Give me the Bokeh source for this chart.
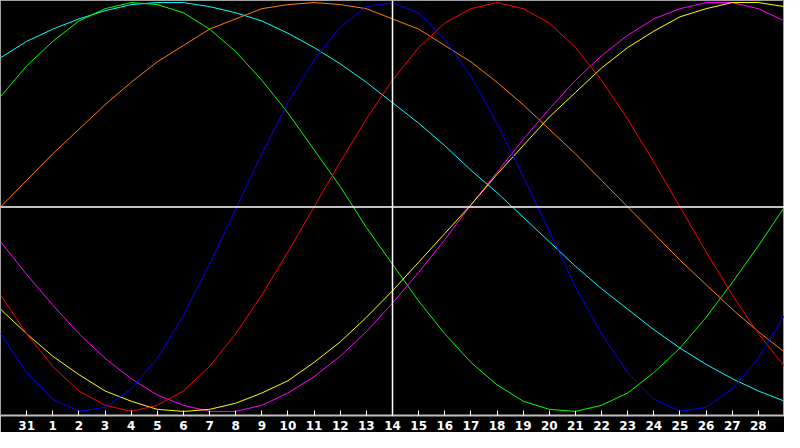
from bokeh.plotting import figure
from bokeh.models import Range1d, FixedTicker, Span
from bokeh.embed import file_html
from bokeh.resources import INLINE

# day-of-month labels along the x axis (index 0 = day 30 of previous month)
days = [30, 31, 1, 2, 3, 4, 5, 6, 7, 8, 9, 10, 11, 12, 13, 14, 15, 16,
        17, 18, 19, 20, 21, 22, 23, 24, 25, 26, 27, 28, 29]
today = 14

# biorhythm values in percent, one per day
physical = [-62, -81, -94, -100, -98, -89, -74, -53, -28, -1, 26, 51, 72, 88,
            98, 100, 95, 82, 64, 41, 15, -12, -39, -62, -81, -94, -100, -98,
            -89, -74, -53]
emotional = [-43, -62, -78, -90, -97, -100, -97, -90, -78, -62, -43, -22, 0,
             22, 43, 62, 78, 90, 97, 100, 97, 90, 78, 62, 43, 22, 0, -22, -43,
             -62, -78]
intellectual = [54, 69, 81, 91, 97, 100, 99, 95, 87, 76, 62, 46, 28, 10, -10,
                -28, -46, -62, -76, -87, -95, -99, -100, -97, -91, -81, -69,
                -54, -37, -19, 0]
intuitive = [-17, -33, -48, -62, -74, -84, -92, -97, -100, -100, -97, -91, -83,
             -73, -61, -47, -32, -16, 1, 17, 33, 48, 62, 74, 84, 92, 97, 100,
             100, 97, 91]
aesthetic = [-50, -62, -73, -82, -90, -95, -99, -100, -99, -96, -91, -85, -76,
             -66, -54, -41, -27, -13, 1, 16, 30, 44, 56, 68, 78, 86, 93, 97,
             100, 100, 98]
awareness = [0, 13, 26, 38, 50, 61, 71, 79, 87, 92, 97, 99, 100, 99, 97, 92,
             87, 79, 71, 61, 50, 38, 26, 13, 0, -13, -26, -38, -50, -61, -71]
spiritual = [73, 81, 87, 92, 96, 99, 100, 100, 98, 95, 91, 85, 78, 70, 61, 51,
             41, 30, 18, 7, -5, -17, -29, -40, -50, -60, -69, -77, -84, -90,
             -95]

series = [
    (spiritual, "#00ffff"),
    (intellectual, "#00ff00"),
    (awareness, "#ff8000"),
    (intuitive, "#ff00ff"),
    (aesthetic, "#ffff00"),
    (emotional, "#ff0000"),
    (physical, "#0000ff"),
]

x = list(range(len(days)))

p = figure(width=784, height=432, output_backend="svg", toolbar_location=None,
           x_range=Range1d(0, len(days) - 1), y_range=Range1d(-102, 101),
           min_border_left=0, min_border_right=0, min_border_top=0,
           min_border_bottom=0)
p.background_fill_color = "black"
p.border_fill_color = "black"
p.outline_line_color = "#a0a0a0"
p.outline_line_width = 1
p.xgrid.visible = False
p.ygrid.visible = False
p.yaxis.visible = False

for vals, col in series:
    p.line(x, vals, line_color=col, line_width=1)

p.add_layout(Span(location=0, dimension="width", line_color="white",
                  line_width=1.5))
p.add_layout(Span(location=days.index(today), dimension="height",
                  line_color="white", line_width=1.5))

ax = p.xaxis[0]
ax.ticker = FixedTicker(ticks=x[1:])
overrides = {i: str(days[i]) for i in x[1:]}
overrides[x[-1]] = ""
ax.major_label_overrides = overrides
ax.axis_line_color = "#c0c0c0"
ax.axis_line_width = 2
ax.major_tick_line_color = "white"
ax.major_tick_in = 5
ax.major_tick_out = 0
ax.minor_tick_line_color = None
ax.major_label_text_color = "white"
ax.major_label_text_font = "DejaVu Sans"
ax.major_label_text_font_style = "bold"
ax.major_label_text_font_size = "12px"
ax.major_label_standoff = 5

open("out.html", "w").write(file_html(p, INLINE))
